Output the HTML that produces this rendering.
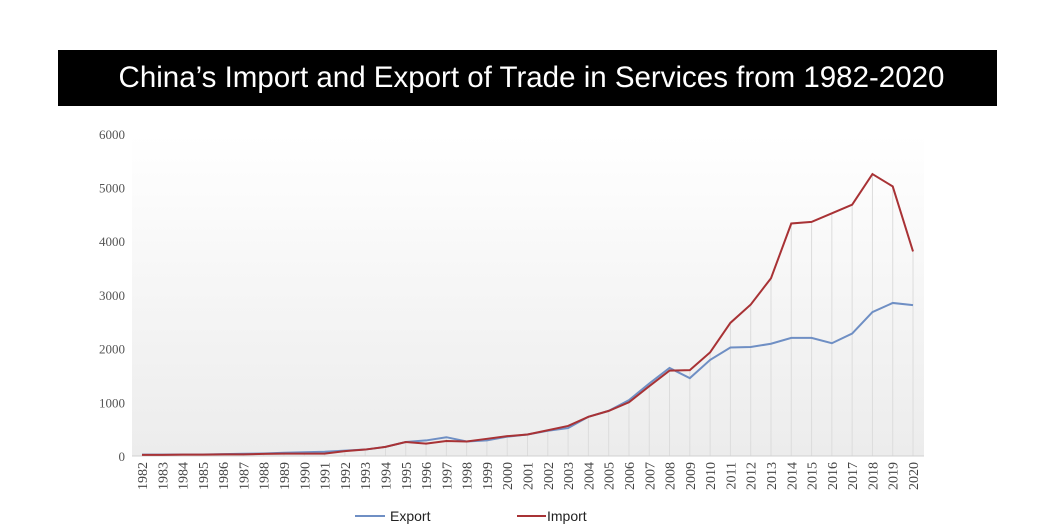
<!DOCTYPE html>
<html><head><meta charset="utf-8"><style>
body{margin:0;background:#fff;width:1056px;height:528px;overflow:hidden;font-family:"Liberation Sans",sans-serif}
#title{position:absolute;left:58px;top:50px;width:939px;height:56px;background:#000;color:#fff;font-size:29.5px;line-height:56px;text-align:center;letter-spacing:0px;text-indent:8px}
svg{position:absolute;left:0;top:0}
</style></head><body>
<div id="title">China’s Import and Export of Trade in Services from 1982-2020</div>
<svg id="chart" width="1056" height="528">
<defs><linearGradient id="bg" x1="0" y1="0" x2="0" y2="1"><stop offset="0" stop-color="#fff"/><stop offset="1" stop-color="#ececec"/></linearGradient></defs>
<rect x="132" y="134" width="792" height="322" fill="url(#bg)"/>
<g id="drops"></g><g id="yt"></g><g id="xt"></g><g id="lines"></g>
<g>
<line x1="355" y1="516" x2="385" y2="516" stroke="#6f8fc4" stroke-width="2"/>
<text x="390" y="521" font-size="14" fill="#222">Export</text>
<line x1="517" y1="516" x2="546" y2="516" stroke="#a83235" stroke-width="2"/>
<text x="547" y="521" font-size="14" fill="#222">Import</text>
</g>
</svg>
<script>
const years=[];for(let y=1982;y<=2020;y++)years.push(String(y));
const exportVals=[25,25,28,29,36,42,47,60,70,80,100,120,170,260,290,350,270,290,360,400,470,520,730,840,1040,1350,1640,1450,1790,2020,2030,2090,2200,2200,2100,2280,2680,2850,2810];
const importVals=[20,20,25,25,30,30,40,45,45,45,90,120,170,260,230,280,270,320,370,400,480,560,730,840,1000,1300,1590,1600,1930,2480,2820,3310,4330,4360,4520,4680,5250,5020,3810];
const yTicks=[0,1000,2000,3000,4000,5000,6000];
const NS="http://www.w3.org/2000/svg";
const x=i=>142+i*20.29, y=v=>456-v*0.0537;
function mk(t,a,p){const e=document.createElementNS(NS,t);for(const k in a)e.setAttribute(k,a[k]);document.getElementById(p).appendChild(e);return e;}
years.forEach((yr,i)=>{
 const top=Math.min(y(exportVals[i]),y(importVals[i]));
 const d=mk('line',{x1:x(i),x2:x(i),y1:top,y2:456,stroke:'#dcdcdc','stroke-width':1},'drops');
 
 
 const t=mk('text',{transform:`translate(${x(i)+5},462) rotate(-90)`,'text-anchor':'end','font-size':14,fill:'#444','font-family':'Liberation Serif, serif'},'xt');
 t.textContent=yr;
 
 
});
yTicks.forEach(v=>{
 const t=mk('text',{x:125,y:y(v)+5,'text-anchor':'end','font-size':13,fill:'#555','font-family':'Liberation Serif, serif'},'yt');
 t.textContent=v;
 
 
});
const ax=mk('line',{x1:132,x2:924,y1:456,y2:456,stroke:'#d0d0d0'},'yt');


const pts=a=>a.map((v,i)=>x(i)+','+y(v)).join(' ');
const ex=mk('polyline',{points:pts(exportVals),fill:'none',stroke:'#6f8fc4','stroke-width':2},'lines');


const im=mk('polyline',{points:pts(importVals),fill:'none',stroke:'#a83235','stroke-width':2},'lines');


</script>
</body></html>
